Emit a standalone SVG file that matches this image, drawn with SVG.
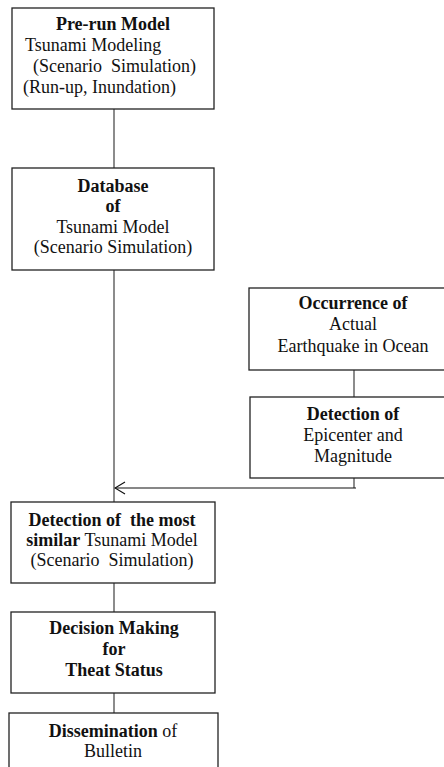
<svg xmlns="http://www.w3.org/2000/svg" width="444" height="767" viewBox="0 0 444 767" font-family="'Liberation Serif', 'DejaVu Serif', serif">
<style>
.box{fill:#fff;stroke:#222;stroke-width:1.3}
.con{fill:none;stroke:#666;stroke-width:1.5}
text{font-family:'Liberation Serif','Times New Roman','DejaVu Serif',serif;font-size:18px;fill:#111}
.c{text-anchor:middle}
.b{font-weight:bold}
</style>
<defs>
<marker id="open" viewBox="0 0 12 14" refX="11" refY="7" markerWidth="12" markerHeight="14" markerUnits="userSpaceOnUse" orient="auto">
<path d="M1,1 L11,7 L1,13" fill="none" stroke="#111" stroke-width="1.2"/>
</marker>
</defs>
<g id="connectors">
<line class="con" x1="114" y1="109" x2="114" y2="168"/>
<line class="con" x1="114" y1="270" x2="114" y2="502"/>
<line class="con" x1="354" y1="370" x2="354" y2="397"/>
<path class="con" d="M354,478 L354,488"/>
<path d="M356,488 L115,488" fill="none" stroke="#111" stroke-width="1.2" marker-end="url(#open)"/>
<line class="con" x1="114" y1="583" x2="114" y2="612"/>
<line class="con" x1="114" y1="693" x2="114" y2="713"/>
</g>
<g id="prerun">
<rect class="box" x="12" y="8" width="202" height="101"/>
<text class="c b" x="113" y="30">Pre-run Model</text>
<text x="25" y="51">Tsunami Modeling</text>
<text x="33" y="72" xml:space="preserve">(Scenario  Simulation)</text>
<text x="23" y="93">(Run-up, Inundation)</text>
</g>
<g id="database">
<rect class="box" x="12" y="168" width="202" height="102"/>
<text class="c b" x="113" y="192">Database</text>
<text class="c b" x="113" y="212">of</text>
<text class="c" x="113" y="233">Tsunami Model</text>
<text class="c" x="113" y="253">(Scenario Simulation)</text>
</g>
<g id="occurrence">
<rect class="box" x="249" y="288" width="210" height="82"/>
<text class="c b" x="353" y="309">Occurrence of</text>
<text class="c" x="353" y="330">Actual</text>
<text class="c" x="353" y="352">Earthquake in Ocean</text>
</g>
<g id="epicenter">
<rect class="box" x="250" y="397" width="209" height="81"/>
<text class="c b" x="353" y="420">Detection of</text>
<text class="c" x="353" y="441">Epicenter and</text>
<text class="c" x="353" y="462">Magnitude</text>
</g>
<g id="similar">
<rect class="box" x="11" y="502" width="204" height="81"/>
<text class="c b" x="112" y="526" xml:space="preserve">Detection of  the most</text>
<text class="c" x="112" y="546"><tspan class="b">similar</tspan> Tsunami Model</text>
<text class="c" x="112" y="566" xml:space="preserve">(Scenario  Simulation)</text>
</g>
<g id="decision">
<rect class="box" x="11" y="612" width="204" height="81"/>
<text class="c b" x="114" y="634">Decision Making</text>
<text class="c b" x="114" y="655">for</text>
<text class="c b" x="114" y="676">Theat Status</text>
</g>
<g id="dissemination">
<rect class="box" x="9" y="713" width="209" height="70"/>
<text class="c" x="113" y="737"><tspan class="b">Dissemination</tspan> of</text>
<text class="c" x="113" y="757">Bulletin</text>
</g>
</svg>
